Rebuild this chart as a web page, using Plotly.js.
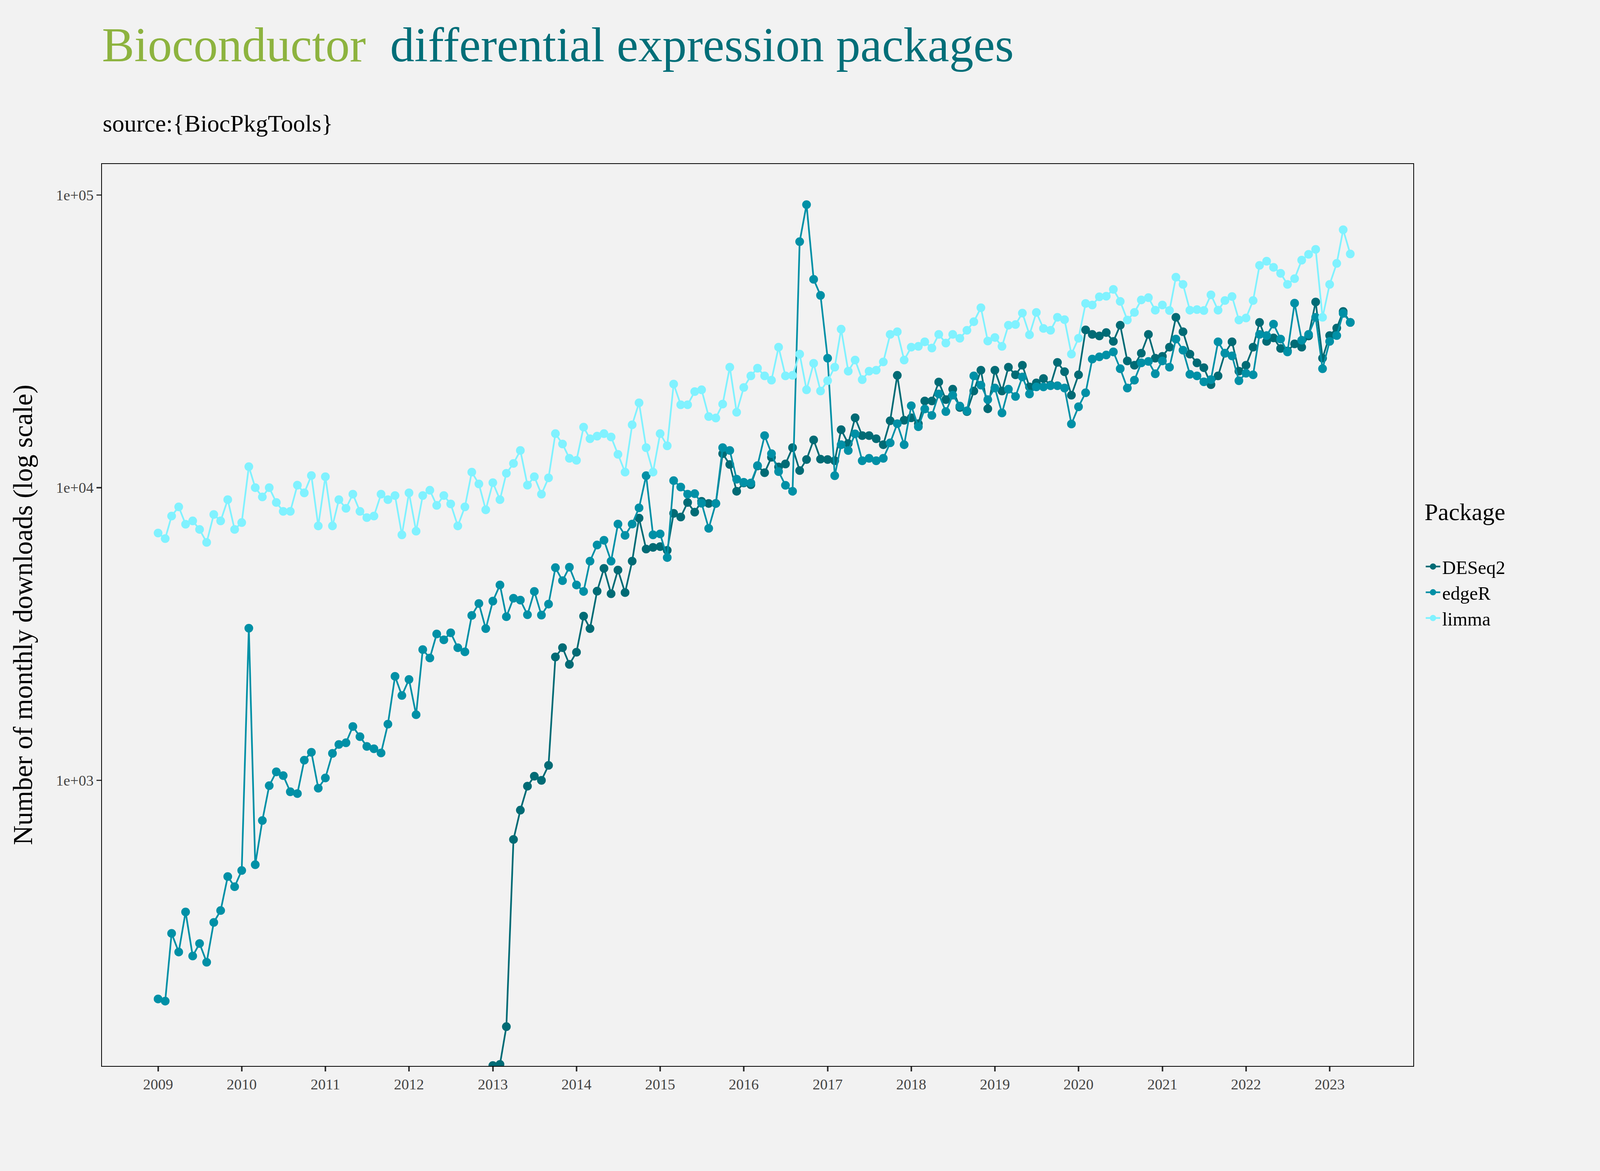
<!DOCTYPE html>
<html>
<head>
<meta charset="utf-8">
<script src="https://cdn.plot.ly/plotly-3.0.1.min.js"></script>
<style>
  html, body { margin: 0; padding: 0; background: #f2f2f2; overflow: hidden; }
  #chart { width: 100vw; height: 100vh; }
</style>
</head>
<body>
<div id="chart"></div>
<script>
// months Jan 2009 .. Apr 2023
const years = [2009, 2010, 2011, 2012, 2013, 2014, 2015, 2016, 2017, 2018, 2019, 2020, 2021, 2022, 2023];
const months = [];
years.forEach(y => {
  for (let m = 1; m <= 12; m++) {
    if (y === 2023 && m > 4) break;
    months.push(y + '-' + String(m).padStart(2, '0') + '-01');
  }
});

// monthly downloads
const limma = [
  7000, 6700, 8000, 8600, 7500, 7700, 7200, 6500, 8100, 7700, 9100, 7200,
  7600, 11800, 10000, 9300, 10000, 8900, 8300, 8300, 10200, 9600, 11000, 7400,
  10900, 7400, 9100, 8500, 9500, 8300, 7900, 8000, 9500, 9100, 9400, 6900,
  9600, 7100, 9400, 9800, 8700, 9400, 8800, 7400, 8600, 11300, 10300, 8400,
  10400, 9100, 11200, 12100, 13400, 10200, 10900, 9500, 10800, 15300, 14100, 12600,
  12400, 16100, 14700, 15000, 15300, 14900, 13000, 11300, 16400, 19500, 13700, 11300,
  15300, 13900, 22600, 19200, 19200, 21300, 21600, 17500, 17300, 19300, 25800, 18100,
  22000, 24100, 25600, 24100, 23300, 30200, 24100, 24200, 28600, 21600, 26600, 21400,
  23200, 25800, 34800, 25000, 27300, 23400, 25000, 25200, 26900, 33400, 34100, 27300,
  30200, 30400, 31500, 30000, 33400, 31200, 33400, 32400, 34500, 36900, 41200, 31700,
  32600, 30400, 35900, 36100, 39500, 33300, 39700, 35000, 34500, 38200, 37500, 28600,
  32400, 42600, 42100, 44900, 45100, 47600, 43300, 37400, 39700, 43800, 44600, 40400,
  42100, 40300, 52400, 49500, 40400, 40600, 40300, 45600, 40400, 43600, 45000, 37400,
  38000, 43600, 57500, 59400, 56600, 54000, 49500, 51800, 59900, 62700, 65200, 38200,
  49500, 58400, 76100, 62900
];
const edgeR = [
  179, 176, 300, 259, 355, 251, 277, 239, 327, 359, 469, 433,
  492, 3310, 515, 729, 959, 1069, 1038, 914, 901, 1172, 1247, 940,
  1019, 1236, 1326, 1344, 1527, 1410, 1306, 1282, 1240, 1556, 2266, 1950,
  2212, 1676, 2797, 2618, 3163, 3020, 3193, 2838, 2748, 3660, 4020, 3300,
  4096, 4650, 3623, 4190, 4128, 3680, 4420, 3670, 4000, 5330, 4810, 5350,
  4650, 4420, 5610, 6370, 6610, 5610, 7510, 6870, 7510, 8530, 10990, 6900,
  6950, 5770, 10570, 10050, 9500, 9540, 8850, 7260, 8830, 13700, 13400, 10690,
  10430, 10380, 11900, 15060, 13070, 11350, 10190, 9720, 69300, 92700, 51500, 45400,
  27700, 10990, 14020, 13390, 15270, 12360, 12600, 12360, 12600, 14230, 16540, 14020,
  19050, 16150, 18580, 17660, 20900, 18200, 20700, 19000, 18300, 24100, 22400, 20000,
  21900, 18000, 21700, 20500, 23900, 20900, 22100, 22100, 22300, 22300, 21900, 16500,
  18900, 21100, 27500, 28000, 28400, 29100, 25500, 21900, 23300, 26700, 27000, 24500,
  27100, 25800, 32200, 29500, 24400, 24100, 23000, 23400, 31500, 28800, 28200, 23200,
  24600, 24300, 33400, 33100, 36200, 32200, 29100, 42700, 31900, 33400, 38200, 25500,
  31600, 33100, 39400, 36700
];
const deseq2 = [
  null, null, null, null, null, null, null, null, null, null, null, null,
  null, null, null, null, null, null, null, null, null, null, null, null,
  null, null, null, null, null, null, null, null, null, null, null, null,
  null, null, null, null, null, null, null, null, null, null, null, null,
  106, 107, 144, 628, 791, 955, 1033, 1000, 1125, 2640, 2840, 2490,
  2740, 3640, 3300, 4430, 5300, 4340, 5230, 4380, 5610, 7870, 6170, 6250,
  6290, 6110, 8170, 7940, 8900, 8250, 8980, 8830, 8830, 13070, 12000, 9720,
  10380, 10240, 11860, 11250, 12700, 11770, 12050, 13700, 11440, 12480, 14560, 12520,
  12480, 12360, 15780, 14150, 17330, 15060, 15060, 14700, 14020, 16930, 24200, 17000,
  17330, 16540, 19780, 19780, 22960, 20000, 21700, 18800, 18200, 21400, 25200, 18600,
  25200, 21400, 25800, 24300, 26200, 22100, 22800, 23600, 22400, 26800, 24900, 20700,
  24300, 34600, 33400, 33000, 33900, 31600, 35900, 27100, 26200, 28800, 33400, 27700,
  28100, 30200, 38200, 34100, 28600, 26700, 25700, 22500, 24100, 28800, 31500, 25000,
  26200, 30200, 36700, 31600, 32500, 29900, 29300, 31000, 30200, 33000, 43100, 27700,
  33100, 35100, 40000, 36700
];

const packages = ['DESeq2', 'edgeR', 'limma'];
const seriesValues = [deseq2, edgeR, limma];
const colors = ['#006b75', '#0090a6', '#80f2ff'];

const yTickVals = [1000, 10000, 100000];
const yTickText = ['1e+03', '1e+04', '1e+05'];
const xTickVals = years.map(y => y + '-01-01');
const xTickText = years.map(String);

const font = 'Liberation Serif, DejaVu Serif, serif';

// scale everything to the actual viewport (designed for 6600 x 2999)
const W = window.innerWidth || 6600;
const H = window.innerHeight || 2999;
const sx = W / 6600, sy = H / 2999, s = Math.min(sx, sy);

const traces = packages.map((p, i) => ({
  x: months,
  y: seriesValues[i],
  name: p,
  type: 'scatter',
  mode: 'lines+markers',
  line: { color: colors[i], width: 7 * s },
  marker: { color: colors[i], size: 36 * s }
}));

const layout = {
  width: W,
  height: H,
  paper_bgcolor: '#f2f2f2',
  plot_bgcolor: '#f2f2f2',
  margin: { l: 420 * sx, r: 770 * sx, t: 420 * sy, b: 269 * sy },
  font: { family: font, color: '#000' },
  title: {
    text: '<span style="color:#8db33f">Bioconductor</span>  <span style="color:#006e78">differential expression packages</span>',
    font: { family: font, size: 200 * s },
    xref: 'paper', x: 0, xanchor: 'left',
    yref: 'container', y: 0.962, yanchor: 'middle'
  },
  annotations: [
    {
      text: 'source:{BiocPkgTools}',
      xref: 'paper', yref: 'paper', x: 0, y: 1.045,
      xanchor: 'left', yanchor: 'middle', showarrow: false,
      font: { family: font, size: 100 * s, color: '#000' }
    },
    {
      text: 'Number of monthly downloads (log scale)',
      xref: 'paper', yref: 'paper', x: -0.0604, y: 0.5,
      xanchor: 'center', yanchor: 'middle', textangle: -90, showarrow: false,
      font: { family: font, size: 112 * s, color: '#000' }
    }
  ],
  xaxis: {
    type: 'date',
    range: ['2008-05-01', '2024-01-01'],
    tickvals: xTickVals,
    ticktext: xTickText,
    ticks: 'outside', ticklen: 18 * s, tickwidth: 6 * s, tickcolor: '#333',
    tickfont: { family: font, size: 62 * s, color: '#444' },
    showgrid: false, zeroline: false, automargin: false,
    showline: true, linecolor: '#000', linewidth: 4 * s, mirror: true
  },
  yaxis: {
    type: 'log',
    range: [2.024, 5.106],
    tickvals: yTickVals,
    ticktext: yTickText,
    ticks: 'outside', ticklen: 18 * s, tickwidth: 6 * s, tickcolor: '#333',
    tickfont: { family: font, size: 62 * s, color: '#444' },
    showgrid: false, zeroline: false, automargin: false,
    showline: true, linecolor: '#000', linewidth: 4 * s, mirror: true
  },
  showlegend: true,
  legend: {
    x: 1.008, xanchor: 'left', y: 0.64, yanchor: 'top',
    bgcolor: 'rgba(0,0,0,0)',
    title: { text: 'Package<br> ', font: { family: font, size: 100 * s, color: '#000' } },
    font: { family: font, size: 78 * s, color: '#000' },
    itemwidth: Math.max(30, 60 * s)
  }
};

Plotly.newPlot('chart', traces, layout, { staticPlot: true });
</script>
</body>
</html>
